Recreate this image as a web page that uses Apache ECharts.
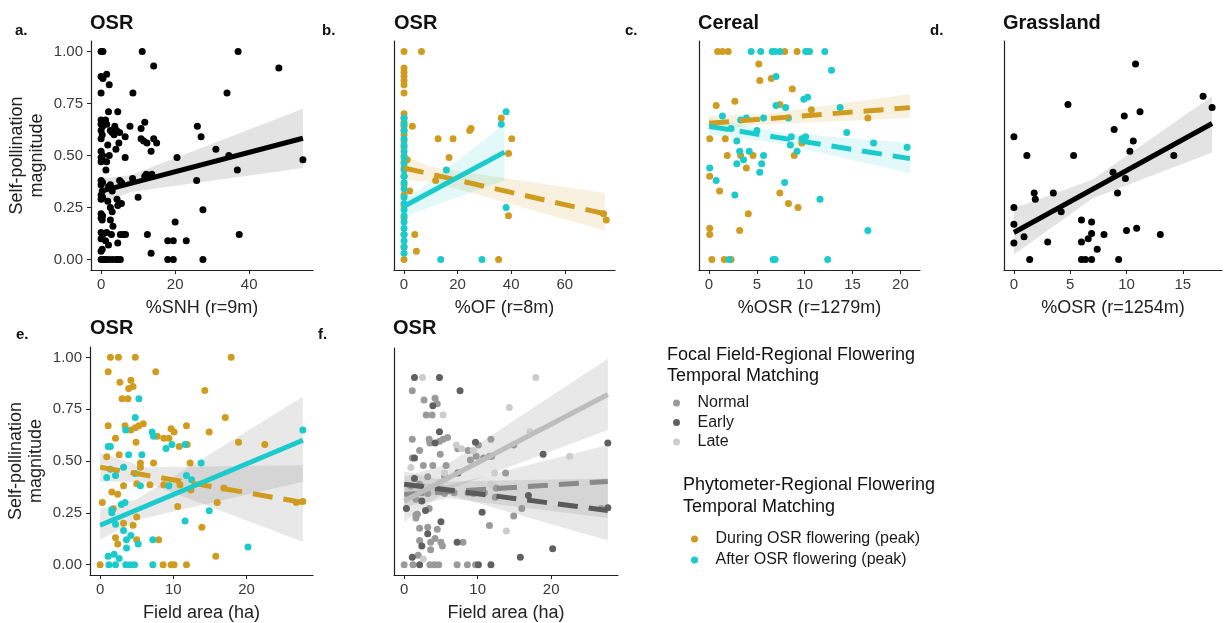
<!DOCTYPE html>
<html><head><meta charset="utf-8">
<script src="https://cdn.jsdelivr.net/npm/echarts@6/dist/echarts.min.js"></script>
<style>html,body{margin:0;padding:0;background:#fff}#c{width:1224px;height:623px}</style>
</head><body><div id="c"></div>
<script>
// ---------- DATA ----------
const aPoints = [[0,1.00],[0.5,1.00],[0,0.88],[0.5,0.87],[0,0.80],[0,0.67],[0.3,0.66],[0,0.65],[0.4,0.64],[0,0.62],[0.3,0.60],[0,0.58],[0,0.52],[0.4,0.50],[0,0.49],[0.3,0.48],[0,0.47],[0,0.38],[0.4,0.37],[0,0.36],[0.3,0.33],[0,0.31],[0.4,0.30],[0,0.29],[0,0.22],[0.4,0.21],[0,0.20],[0.3,0.19],[0,0.13],[0.4,0.12],[0,0.10],[0.3,0.05],[0,0.04],[0,0],[0.4,0],[0.8,0],
[1.5,0.89],[2.2,0.84],[1.2,0.67],[1.5,0.65],[2.5,0.62],[3,0.61],[2,0.71],[1.8,0.55],[2.2,0.50],[1.5,0.47],[1.3,0.43],[2.5,0.36],[2,0.35],[3,0.33],[1.8,0.28],[2.5,0.25],[3,0.23],[2.5,0.19],[3.2,0.16],[1.5,0.13],[2.8,0.12],[1.2,0.09],[2,0.07],[1.2,0],[2,0],[3,0],[4,0],[4.6,0],[5.2,0],
[4.5,0.71],[3.7,0.64],[4.2,0.62],[5,0.61],[3.5,0.60],[4.8,0.56],[4,0.53],[6.5,0.49],[6.5,0.59],[5,0.38],[5.5,0.37],[4.5,0.26],[4.3,0.29],[5.5,0.27],[6,0.12],[6.6,0.12],[4.5,0.08],[5.2,0.12],
[8.5,0.39],[7.8,0.64],[10.8,0.63],[11.8,0.66],[10.8,0.58],[11.5,0.57],[12.4,0.56],[11.8,0.40],[10,0.30],[13.5,0.52],[14.2,0.58],[15,0.56],[12.2,0.41],[13.7,0.41],[12.5,0.12],[13.5,0.03],[11.1,1.00],[14.2,0.93],[8.6,0.80],
[18,0.09],[19.5,0.09],[18,0],[19.5,0],[20,0.18],[20.5,0.49],[23,0.09],[26,0.64],[27,0.59],[25.8,0.38],[27.5,0.24],[27.5,0],[31,0.53],
[34,0.80],[37,1.00],[36.8,0.43],[37.3,0.12],[48,0.92],[54.5,0.48],[34.5,0.50]];
const aFitLine = [[0,0.329],[54.5,0.583]];
const aBand = [[0,0.27,0.39],[8,0.325,0.405],[54.5,0.44,0.725]];

const bDuring = [[0,1.00],[0,0.92],[0,0.90],[0,0.88],[0,0.86],[0,0.84],[0,0.80],[0,0.70],[0,0.68],[0,0.66],[0,0.64],[0,0.62],[0,0.60],[0,0.57],[0,0.54],[0,0.50],[0,0.47],[0,0.44],[0,0.40],[0,0.36],[0,0.31],[0,0.26],[0,0.20],[0,0.12],[0,0.06],[0,0],
[6.5,1.00],[3.1,0.64],[1.2,0.48],[2.1,0.33],[4.0,0.12],[4.6,0.04],[12.7,0.58],[18.3,0.58],[16.8,0.49],[11.8,0.38],[24.5,0.62],[25.0,0.63],[36.3,0.68],[40.2,0.58],[39.0,0.51],[39.0,0.21],[35.3,0],[75.5,0.19],[74.5,0.22]];
const bAfter = [[0,0.68],[0,0.65],[0,0.62],[0,0.58],[0,0.55],[0,0.52],[0,0.49],[0,0.46],[0,0.43],[0,0.40],[0,0.37],[0,0.34],[0,0.30],[0,0.27],[0,0.24],[0,0.21],[0,0.18],[0,0.15],[0,0.12],[0,0.09],[0,0.06],[0,0.03],[15.8,0.43],[38.1,0.71],[36.3,0.65],[38.1,0.25],[13.7,0],[29.1,0]];
const bDuringFit = [[0,0.44],[75,0.22]];
const bAfterFit = [[0,0.256],[37.5,0.516]];
const bDuringBand = [[0,0.38,0.50],[10,0.375,0.445],[75,0.14,0.32]];
const bAfterBand = [[0,0.20,0.30],[3,0.22,0.31],[37.5,0.38,0.65]];

const cDuring = [[0.9,1.00],[1.4,1.00],[2.0,1.00],[7.9,1.00],[9.2,1.00],[10.3,1.00],[5.2,0.94],[5.3,0.86],[6.5,0.87],[8.7,0.82],[0.75,0.74],[2.7,0.76],[7.4,0.745],[10.7,0.72],[16.6,0.68],
[0.07,0.58],[1.7,0.58],[1.9,0.50],[3.3,0.50],[4.6,0.50],[8.9,0.50],[3.9,0.44],[0.07,0.40],[1.1,0.33],[7.4,0.32],[8.3,0.27],[9.3,0.25],[4.1,0.22],[3.2,0.14],[0.07,0.15],[0.07,0.12],[0.3,0],[1.6,0],[2.3,0],[9.7,0.56]];
const cAfter = [[4.4,1.00],[5.4,1.00],[6.6,1.00],[6.9,1.00],[7.4,1.00],[10.1,1.00],[10.5,1.00],[12.1,1.00],[12.8,0.91],[7.0,0.88],[9.9,0.77],[10.3,0.78],[7.0,0.74],[8.0,0.73],[13.7,0.73],[1.4,0.69],[3.9,0.68],[3.3,0.67],[5.7,0.68],[8.3,0.68],[2.3,0.63],[5.0,0.62],[14.4,0.61],[8.6,0.59],[2.9,0.57],[10.1,0.59],[9.7,0.58],[17.2,0.56],[20.7,0.54],[8.5,0.55],[3.2,0.52],[4.2,0.52],[3.6,0.48],[2.9,0.46],[5.7,0.50],[5.5,0.46],[9.2,0.52],[5.3,0.42],[0.07,0.44],[0.75,0.38],[7.9,0.37],[2.7,0.31],[11.6,0.29],[16.6,0.14],[2.1,0],[6.7,0],[6.9,0],[12.4,0]];
const cDuringFit = [[0,0.655],[21,0.73]];
const cAfterFit = [[0,0.64],[21,0.485]];
const cDuringBand = [[0,0.62,0.69],[6,0.65,0.70],[21,0.68,0.795]];
const cAfterBand = [[0,0.60,0.68],[7,0.563,0.613],[21,0.415,0.56]];

const dPoints = [[10.8,0.94],[16.8,0.785],[17.6,0.73],[4.8,0.745],[9.8,0.69],[11.2,0.71],[0,0.59],[8.9,0.625],[10.6,0.57],[10.3,0.52],[1.15,0.50],[5.3,0.50],[14.2,0.50],[8.8,0.42],[9.9,0.39],[1.8,0.32],[1.9,0.29],[3.5,0.32],[9.2,0.32],[4.2,0.23],[0,0.25],[0,0.17],[6.0,0.19],[6.9,0.18],[6.9,0.125],[6.6,0.10],[6.0,0.085],[7.4,0.05],[10.0,0.14],[10.9,0.15],[8.0,0.12],[3.0,0.085],[0.9,0.11],[0,0.08],[1.4,0],[6.0,0],[6.35,0],[6.9,0],[9.3,0],[13.0,0.12]];
const dFitLine = [[0,0.13],[17.6,0.654]];
const dBand = [[0,0.025,0.245],[7,0.295,0.385],[17.6,0.515,0.785]];

const eDuring = [[1.4,1.00],[2.5,1.00],[4.8,1.00],[17.9,1.00],[1.1,0.93],[7.6,0.93],[2.7,0.88],[4.2,0.89],[3.9,0.85],[4.5,0.86],[3.0,0.80],[3.8,0.80],[14.3,0.84],
[1.1,0.67],[3.4,0.67],[4.2,0.65],[4.8,0.66],[5.3,0.67],[5.9,0.68],[17.1,0.71],[9.7,0.655],[10.1,0.64],[11.8,0.67],[14.9,0.64],
[2.1,0.61],[4.9,0.59],[7.8,0.62],[8.7,0.61],[9.4,0.61],[10.8,0.57],[11.9,0.58],[18.9,0.59],[22.5,0.58],[2.6,0.53],[0.9,0.52],[12.3,0.49],[5.5,0.49],[5.5,0.47],[7.3,0.49],
[1.6,0.35],[2.4,0.34],[3.2,0.38],[5.0,0.39],[6.8,0.385],[8.7,0.385],[0.3,0.30],[1.8,0.27],[10.6,0.28],[16.0,0.30],[16.9,0.37],[12.4,0.36],[10.9,0.385],
[5.0,0.23],[4.5,0.19],[3.2,0.20],[2.1,0.13],[2.4,0.10],[5.0,0.12],[8.0,0.12],[13.9,0.18],[15.8,0.04],[0,0],[8.6,0],[9.7,0],[10.1,0],[11.8,0],[27.7,0.305],[26.8,0.30]];
const eAfter = [[5.3,0.80],[4.8,0.71],[3.5,0.65],[7.1,0.64],[7.3,0.62],[27.7,0.65],[1.1,0.57],[1.4,0.57],[9.0,0.56],[9.8,0.58],[11.6,0.58],[3.9,0.53],[5.7,0.53],[13.8,0.49],[0.9,0.42],[1.4,0.46],[2.1,0.43],[3.2,0.47],[4.8,0.44],[11.8,0.43],[12.5,0.41],[9.4,0.38],[5.5,0.38],[3.4,0.30],[2.9,0.29],[1.6,0.265],[1.6,0.25],[14.9,0.26],[11.6,0.21],[2.1,0.195],[3.2,0.165],[3.6,0.12],[4.2,0.14],[3.6,0.08],[5.2,0.10],[7.2,0.12],[20.2,0.085],[1.1,0.04],[1.9,0.05],[2.6,0.03],[1.2,0],[2.1,0],[3.5,0],[4.1,0],[4.7,0],[7.2,0]];
const eDuringFit = [[0,0.47],[27.7,0.30]];
const eAfterFit = [[0,0.19],[27.7,0.60]];
const eDuringBand = [[0,0.40,0.54],[6,0.40,0.47],[27.7,0.11,0.48]];
const eAfterBand = [[0,0.12,0.27],[5,0.215,0.315],[27.7,0.40,0.81]];

const fNormal = [[1.1,0.93],[2.7,0.88],[4.2,0.89],[4.5,0.86],[3.0,0.80],[3.8,0.80],[1.1,0.67],[3.4,0.67],[4.8,0.66],[5.3,0.67],[5.9,0.68],[10.1,0.64],[11.8,0.67],[14.9,0.64],[2.1,0.61],[4.9,0.59],[8.7,0.61],[10.8,0.57],[11.9,0.58],[2.6,0.53],[5.5,0.47],[1.6,0.35],[3.2,0.38],[5.0,0.39],[6.8,0.385],[8.7,0.385],[1.8,0.27],[16.0,0.30],[12.4,0.36],[10.9,0.385],[4.5,0.19],[3.2,0.20],[2.1,0.13],[5.0,0.12],[8.0,0.12],[0,0],[8.6,0],[9.7,0],[26.8,0.30],
[3.5,0.65],[7.3,0.62],[1.1,0.57],[9.0,0.56],[9.8,0.58],[11.6,0.58],[3.9,0.53],[5.7,0.53],[13.8,0.49],[0.9,0.42],[2.1,0.43],[3.2,0.47],[12.5,0.41],[9.4,0.38],[5.5,0.38],[3.4,0.30],[1.6,0.265],[1.6,0.25],[14.9,0.26],[11.6,0.21],[2.1,0.195],[3.6,0.12],[4.2,0.14],[3.6,0.08],[5.2,0.10],[1.9,0.05],[1.2,0],[3.5,0],[4.1,0],[4.7,0],[7.2,0]];
const fEarly = [[1.4,1.00],[4.8,1.00],[7.6,0.93],[3.9,0.85],[4.2,0.65],[9.7,0.655],[18.9,0.59],[7.3,0.49],[2.4,0.34],[0.3,0.30],[10.6,0.28],[16.9,0.37],[5.0,0.23],[2.4,0.10],[15.8,0.04],[10.1,0],[11.8,0],[27.7,0.305],
[4.8,0.71],[27.7,0.65],[1.4,0.57],[1.4,0.46],[2.9,0.29],[3.2,0.165],[7.2,0.12],[20.2,0.085],[1.1,0.04],[2.1,0]];
const fLate = [[2.5,1.00],[17.9,1.00],[14.3,0.84],[17.1,0.71],[7.8,0.62],[9.4,0.61],[22.5,0.58],[0.9,0.52],[12.3,0.49],[5.5,0.49],[13.9,0.18],[5.3,0.80],[7.1,0.64],[4.8,0.44],[11.8,0.43],[2.6,0.03]];
const fNormalFit = [[0,0.375],[27.7,0.445]];
const fEarlyFit = [[0,0.43],[27.7,0.29]];
const fLateFit = [[0,0.34],[27.7,0.91]];
const fNormalBand = [[0,0.31,0.44],[6,0.355,0.425],[27.7,0.25,0.64]];
const fEarlyBand = [[0,0.37,0.50],[6,0.375,0.445],[27.7,0.13,0.46]];
const fLateBand = [[0,0.23,0.47],[6,0.40,0.54],[27.7,0.72,1.10]];

const xTicksA = [0,20,40], xTicksB = [0,20,40,60], xTicksC = [0,5,10,15,20], xTicksD = [0,5,10,15], xTicksE = [0,10,20];
const yTicks = [0,0.25,0.5,0.75,1.0];

// ---------- STYLE ----------
const FONT = "'Liberation Sans', Arial, sans-serif";
const GOLD = '#D09C1F', CYAN = '#1BCBCB';
const GREY_N = '#9a9a9a', GREY_E = '#606060', GREY_L = '#cccccc';
const AX = '#222';

const grids = [
  {left:91, top:41, width:222, height:229},
  {left:394, top:41, width:221, height:229},
  {left:699, top:41, width:221, height:229},
  {left:1004, top:41, width:218, height:229},
  {left:90, top:347, width:223, height:228},
  {left:394, top:348, width:224, height:227}
];

function xa(gi, min, max, ticks, name){
  return {type:'value', gridIndex:gi, min, max, name, nameLocation:'middle', nameGap:29,
    nameTextStyle:{fontSize:18, color:'#222', fontFamily:FONT},
    axisLine:{show:true, onZero:false, lineStyle:{color:AX, width:1.2}},
    axisTick:{show:true, length:4, customValues:ticks, lineStyle:{color:AX, width:1}},
    axisLabel:{customValues:ticks, fontSize:15, color:'#3a3a3a', margin:7, fontFamily:FONT},
    splitLine:{show:false}};
}
function ya(gi, min, max, labeled){
  const o = {type:'value', gridIndex:gi, min, max,
    axisLine:{show:true, onZero:false, lineStyle:{color:AX, width:1.2}},
    splitLine:{show:false}};
  if (labeled){
    o.name = 'Self-pollination\nmagnitude'; o.nameLocation='middle'; o.nameRotate=90; o.nameGap=44;
    o.nameTextStyle = {fontSize:18, color:'#222', lineHeight:20, fontFamily:FONT};
    o.axisTick = {show:true, length:4, customValues:yTicks, lineStyle:{color:AX, width:1}};
    o.axisLabel = {customValues:yTicks, fontSize:15, color:'#3a3a3a', margin:8, fontFamily:FONT, formatter:v=>v.toFixed(2)};
  } else {
    o.axisTick = {show:false}; o.axisLabel = {show:false};
  }
  return o;
}

function scatter(name, gi, data, color){
  return {type:'scatter', name, xAxisIndex:gi, yAxisIndex:gi, data, symbol:'circle', symbolSize:7,
    itemStyle:{color, opacity:1}, z:3, silent:true};
}
function fit(gi, data, color, dashed){
  return {type:'line', xAxisIndex:gi, yAxisIndex:gi, data, showSymbol:false, symbol:'none',
    lineStyle:{color, width:5, type: dashed ? [20,11] : 'solid', cap:'butt'}, z:4, silent:true};
}
function band(gi, data, color){
  return {type:'custom', xAxisIndex:gi, yAxisIndex:gi, data, clip:true, z:2, silent:true,
    encode:{x:0, y:[1,2]},
    renderItem:(params, api)=>{
      if (params.dataIndex !== 0) return null;
      const up = data.map(d=>api.coord([d[0], d[2]]));
      const dn = data.slice().reverse().map(d=>api.coord([d[0], d[1]]));
      return {type:'polygon', shape:{points: up.concat(dn)}, style:{fill:color}};
    }};
}

const D = 'During OSR flowering (peak)', A = 'After OSR flowering (peak)';
const GB = 'rgba(140,140,140,0.24)', GB2 = 'rgba(140,140,140,0.2)';
const series = [
  // a
  band(0, aBand, GB), scatter('a', 0, aPoints, '#000'), fit(0, aFitLine, '#000', false),
  // b
  scatter(D, 1, bDuring, GOLD), scatter(A, 1, bAfter, CYAN),
  band(1, bDuringBand, 'rgba(208,156,31,0.14)'), band(1, bAfterBand, 'rgba(27,203,203,0.12)'),
  fit(1, bDuringFit, GOLD, true), fit(1, bAfterFit, CYAN, false),
  // c
  scatter(D, 2, cDuring, GOLD), scatter(A, 2, cAfter, CYAN),
  band(2, cDuringBand, 'rgba(208,156,31,0.14)'), band(2, cAfterBand, 'rgba(27,203,203,0.12)'),
  fit(2, cDuringFit, GOLD, true), fit(2, cAfterFit, CYAN, true),
  // d
  band(3, dBand, GB), scatter('d', 3, dPoints, '#000'), fit(3, dFitLine, '#000', false),
  // e
  scatter(D, 4, eDuring, GOLD), scatter(A, 4, eAfter, CYAN),
  band(4, eDuringBand, GB2), band(4, eAfterBand, GB2),
  fit(4, eDuringFit, GOLD, true), fit(4, eAfterFit, CYAN, false),
  // f
  scatter('Normal', 5, fNormal, GREY_N), scatter('Early', 5, fEarly, GREY_E), scatter('Late', 5, fLate, GREY_L),
  band(5, fNormalBand, GB2), band(5, fEarlyBand, GB2), band(5, fLateBand, GB2),
  fit(5, fNormalFit, '#8a8a8a', true), fit(5, fEarlyFit, '#5a5a5a', true), fit(5, fLateFit, '#bdbdbd', false)
];

function txt(x, y, text, size, bold){
  return {type:'text', x, y, silent:true,
    style:{text, fontSize:size, fontWeight: bold ? 'bold' : 'normal', fontFamily:FONT, fill:'#111', verticalAlign:'middle', align:'left'}};
}

const option = {
  animation:false,
  backgroundColor:'#fff',
  textStyle:{fontFamily:FONT},
  grid: grids,
  xAxis: [
    xa(0, -2.725, 57.225, xTicksA, '%SNH (r=9m)'),
    xa(1, -3.75, 78.75, xTicksB, '%OF (r=8m)'),
    xa(2, -1.05, 22.05, xTicksC, '%OSR (r=1279m)'),
    xa(3, -0.88, 18.48, xTicksD, '%OSR (r=1254m)'),
    xa(4, -1.385, 29.085, xTicksE, 'Field area (ha)'),
    xa(5, -1.385, 29.085, xTicksE, 'Field area (ha)')
  ],
  yAxis: [
    ya(0, -0.05, 1.05, true), ya(1, -0.05, 1.05, false), ya(2, -0.05, 1.05, false),
    ya(3, -0.05, 1.05, false), ya(4, -0.05, 1.05, true), ya(5, -0.055, 1.158, false)
  ],
  legend: [
    {data:['Normal','Early','Late'], orient:'vertical', left:668, top:390, itemWidth:26, itemHeight:7, itemGap:3.5,
      icon:'circle', selectedMode:false, textStyle:{fontSize:16, color:'#1a1a1a', lineHeight:14, padding:[0,0,0,3], fontFamily:FONT}},
    {data:[D, A], orient:'vertical', left:686, top:526, itemWidth:26, itemHeight:7, itemGap:5,
      icon:'circle', selectedMode:false, textStyle:{fontSize:16, color:'#1a1a1a', lineHeight:14, padding:[0,0,0,3], fontFamily:FONT}}
  ],
  graphic: [
    txt(15, 31, 'a.', 15, true), txt(90, 23, 'OSR', 20, true),
    txt(322, 31, 'b.', 15, true), txt(394, 23, 'OSR', 20, true),
    txt(625, 31, 'c.', 15, true), txt(698, 23, 'Cereal', 20, true),
    txt(930, 31, 'd.', 15, true), txt(1003, 23, 'Grassland', 20, true),
    txt(16, 335, 'e.', 15, true), txt(90, 328, 'OSR', 20, true),
    txt(318, 335, 'f.', 15, true), txt(393, 328, 'OSR', 20, true),
    txt(667, 355, 'Focal Field-Regional Flowering', 18, false),
    txt(667, 376, 'Temporal Matching', 18, false),
    txt(683, 485, 'Phytometer-Regional Flowering', 18, false),
    txt(683, 507, 'Temporal Matching', 18, false)
  ],
  series
};
echarts.init(document.getElementById('c')).setOption(option);
</script></body></html>
